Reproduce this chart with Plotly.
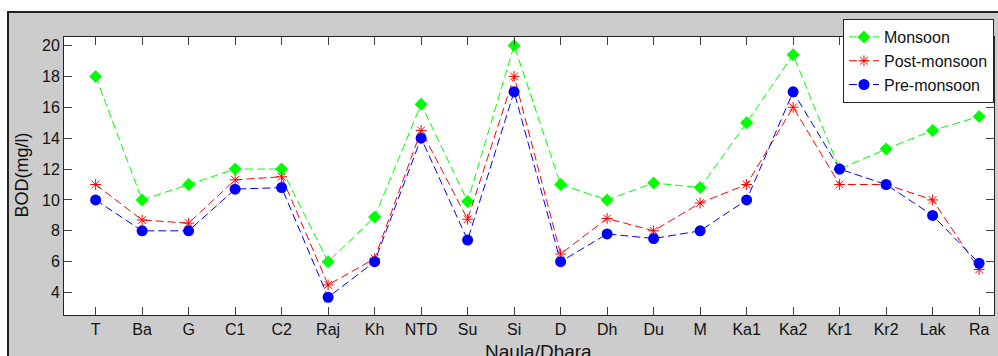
import plotly.graph_objects as go

sites = ["T", "Ba", "G", "C1", "C2", "Raj", "Kh", "NTD", "Su", "Si",
         "D", "Dh", "Du", "M", "Ka1", "Ka2", "Kr1", "Kr2", "Lak", "Ra"]
monsoon = [18, 10, 11, 12, 12, 6, 8.9, 16.2, 9.9, 20,
           11, 10, 11.1, 10.8, 15, 19.4, 12, 13.3, 14.5, 15.4]
post_monsoon = [11, 8.7, 8.5, 11.3, 11.5, 4.5, 6.2, 14.5, 8.75, 18,
                6.5, 8.8, 8.0, 9.8, 11, 16, 11, 11, 10, 5.5]
pre_monsoon = [10, 8, 8, 10.7, 10.8, 3.7, 6, 14, 7.4, 17,
               6, 7.8, 7.5, 8, 10, 17, 12, 11, 9, 5.9]
y_ticks = [4, 6, 8, 10, 12, 14, 16, 18, 20]

FONT = "Arial, 'Liberation Sans', sans-serif"
DASH = "8px,4px"

fig = go.Figure()
fig.add_trace(go.Scatter(
    x=sites, y=monsoon, name="Monsoon", mode="lines+markers",
    line=dict(color="#00ff00", width=1, dash=DASH),
    marker=dict(symbol="diamond", size=10, color="#00ff00")))
fig.add_trace(go.Scatter(
    x=sites, y=post_monsoon, name="Post-monsoon", mode="lines+markers",
    line=dict(color="#ff0000", width=1, dash=DASH),
    marker=dict(symbol="asterisk-open", size=9, color="#ff0000",
                line=dict(color="#ff0000", width=1))))
fig.add_trace(go.Scatter(
    x=sites, y=pre_monsoon, name="Pre-monsoon", mode="lines+markers",
    line=dict(color="#0000ff", width=1, dash=DASH),
    marker=dict(symbol="circle", size=11, color="#0000ff")))

# gray figure panel + white axes area
fig.add_shape(type="rect", xref="paper", yref="paper",
              x0=-0.0602, x1=1.03, y0=-0.25, y1=1.09,
              fillcolor="#cccccc", line=dict(color="#222222", width=2),
              layer="below")
fig.add_shape(type="rect", xref="paper", yref="paper",
              x0=0, x1=1, y0=0, y1=1,
              fillcolor="white", line=dict(width=0), layer="below")

fig.add_annotation(text="Naula/Dhara", xref="paper", yref="paper",
                   x=0.5097, y=-0.085, xanchor="center", yanchor="top",
                   showarrow=False, font=dict(family=FONT, size=19, color="#111111"))
fig.add_annotation(text="BOD(mg/l)", xref="paper", yref="paper",
                   x=-0.0452, y=0.505, xanchor="center", yanchor="middle",
                   textangle=-90, showarrow=False,
                   font=dict(family=FONT, size=18, color="#111111"))

fig.update_layout(
    width=998, height=356,
    margin=dict(l=64, r=4, t=37, b=41),
    paper_bgcolor="white", plot_bgcolor="rgba(0,0,0,0)",
    font=dict(family=FONT, size=15, color="#111111"),
    showlegend=True,
    legend=dict(x=0.8376, y=1.0647, xanchor="left", yanchor="top",
                bgcolor="white", bordercolor="#222222", borderwidth=1,
                font=dict(family=FONT, size=16, color="#111111"),
                tracegroupgap=0),
)
fig.update_xaxes(
    type="category", categoryorder="array", categoryarray=sites,
    range=[-0.68, 19.32],
    showgrid=False, zeroline=False,
    showline=True, linecolor="#222222", linewidth=1, mirror="ticks",
    ticks="inside", ticklen=8, tickcolor="#444444", tickwidth=1,
    tickfont=dict(family=FONT, size=16, color="#111111"))
fig.update_yaxes(
    range=[2.55, 20.55], tickvals=y_ticks,
    showgrid=False, zeroline=False,
    showline=True, linecolor="#222222", linewidth=1, mirror="ticks",
    ticks="inside", ticklen=8, tickcolor="#444444", tickwidth=1,
    tickfont=dict(family=FONT, size=16, color="#111111"))

fig.write_html("out.html")
